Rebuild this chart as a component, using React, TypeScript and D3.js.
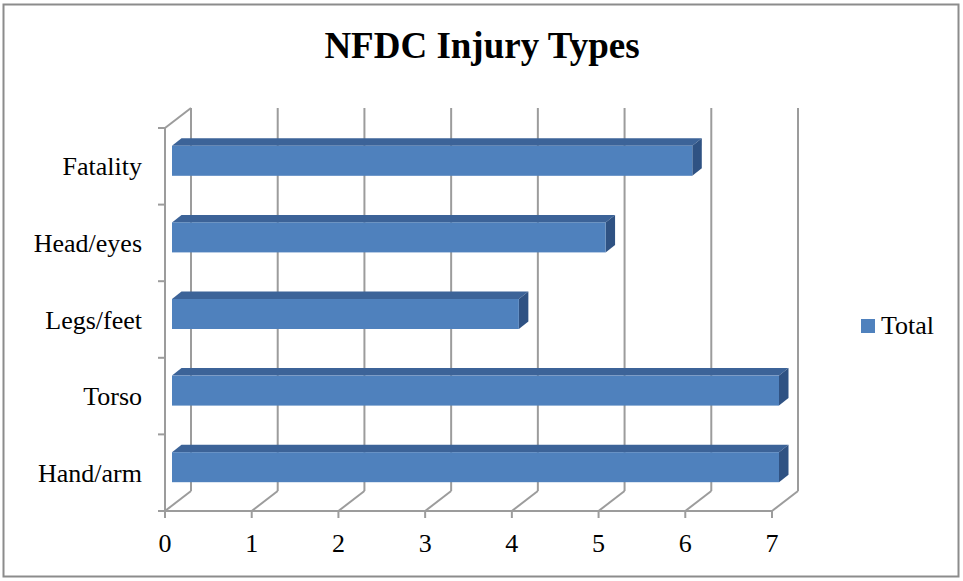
import React from "react";
import * as d3 from "d3";

const categories = ["Fatality", "Head/eyes", "Legs/feet", "Torso", "Hand/arm"];
const totals = [6, 5, 4, 7, 7];
const xTicks = [0, 1, 2, 3, 4, 5, 6, 7];
const seriesName = "Total";

const W = 963;
const H = 581;

// 3D projection offsets
const WALL_DX = 26;
const WALL_DY = -20;
const BAR_FRONT_DX = 7;
const BAR_FRONT_DY = -5.5;
const BAR_DEPTH_DX = 9.5;
const BAR_DEPTH_DY = -7.5;
const BAR_H = 30;

const GRID = "#9c9c9c";
const FRONT = "#4F81BD";
const TOP = "#3C6398";
const SIDE = "#2F5283";
const SERIF = "'Times New Roman', 'Liberation Serif', serif";

export default function App() {
  const x = d3.scaleLinear().domain([0, 7]).range([165, 772]);
  const y = d3.scaleBand<string>().domain(categories).range([128, 511]);

  const yTop = y.range()[0];
  const yBot = y.range()[1];
  const boundaries = categories.map((c) => y(c) as number).concat([yBot]);

  return (
    <svg
      width={W}
      height={H}
      style={{ position: "absolute", left: 0, top: 0, background: "#fff" }}
    >
      <rect x={3.5} y={4.5} width={955} height={572} fill="#fff" stroke="#8c8c8c" strokeWidth={2} />

      <text x={482} y={58} textAnchor="middle" fontFamily={SERIF} fontWeight="bold" fontSize={37}>
        NFDC Injury Types
      </text>

      {/* walls and gridlines */}
      <g stroke={GRID} strokeWidth={2} fill="none">
        {xTicks.map((t) => (
          <g key={t}>
            <line x1={x(t) + WALL_DX} y1={yTop + WALL_DY} x2={x(t) + WALL_DX} y2={yBot + WALL_DY} />
            <line x1={x(t)} y1={yBot} x2={x(t) + WALL_DX} y2={yBot + WALL_DY} />
            <line x1={x(t)} y1={yBot} x2={x(t)} y2={yBot + 7} />
          </g>
        ))}
        <line x1={x(0)} y1={yTop} x2={x(0) + WALL_DX} y2={yTop + WALL_DY} />
        <line x1={x(0)} y1={yTop} x2={x(0)} y2={yBot} />
        <line x1={x(0)} y1={yBot} x2={x(7)} y2={yBot} />
        {boundaries.map((b, i) => (
          <line key={i} x1={x(0) - 7} y1={b} x2={x(0)} y2={b} />
        ))}
      </g>

      {/* bars */}
      {categories.map((c, i) => {
        const cy = (y(c) as number) + y.bandwidth() / 2 + BAR_FRONT_DY;
        const x0 = x(0) + BAR_FRONT_DX;
        const x1 = x(totals[i]) + BAR_FRONT_DX;
        const y0 = cy - BAR_H / 2;
        const y1 = cy + BAR_H / 2;
        const dx = BAR_DEPTH_DX;
        const dy = BAR_DEPTH_DY;
        return (
          <g key={c}>
            <polygon
              points={`${x0},${y0} ${x0 + dx},${y0 + dy} ${x1 + dx},${y0 + dy} ${x1},${y0}`}
              fill={TOP}
            />
            <polygon
              points={`${x1},${y0} ${x1 + dx},${y0 + dy} ${x1 + dx},${y1 + dy} ${x1},${y1}`}
              fill={SIDE}
            />
            <rect x={x0} y={y0} width={x1 - x0} height={BAR_H} fill={FRONT} />
          </g>
        );
      })}

      {/* category labels */}
      {categories.map((c) => (
        <text
          key={c}
          x={142}
          y={(y(c) as number) + y.bandwidth() / 2 + 9}
          textAnchor="end"
          fontFamily={SERIF}
          fontSize={26}
        >
          {c}
        </text>
      ))}

      {/* value axis labels */}
      {xTicks.map((t) => (
        <text key={t} x={x(t)} y={552} textAnchor="middle" fontFamily={SERIF} fontSize={26}>
          {t}
        </text>
      ))}

      {/* legend */}
      <rect x={861} y={319} width={14} height={14} fill={FRONT} />
      <text x={881} y={334} fontFamily={SERIF} fontSize={26}>
        {seriesName}
      </text>
    </svg>
  );
}
